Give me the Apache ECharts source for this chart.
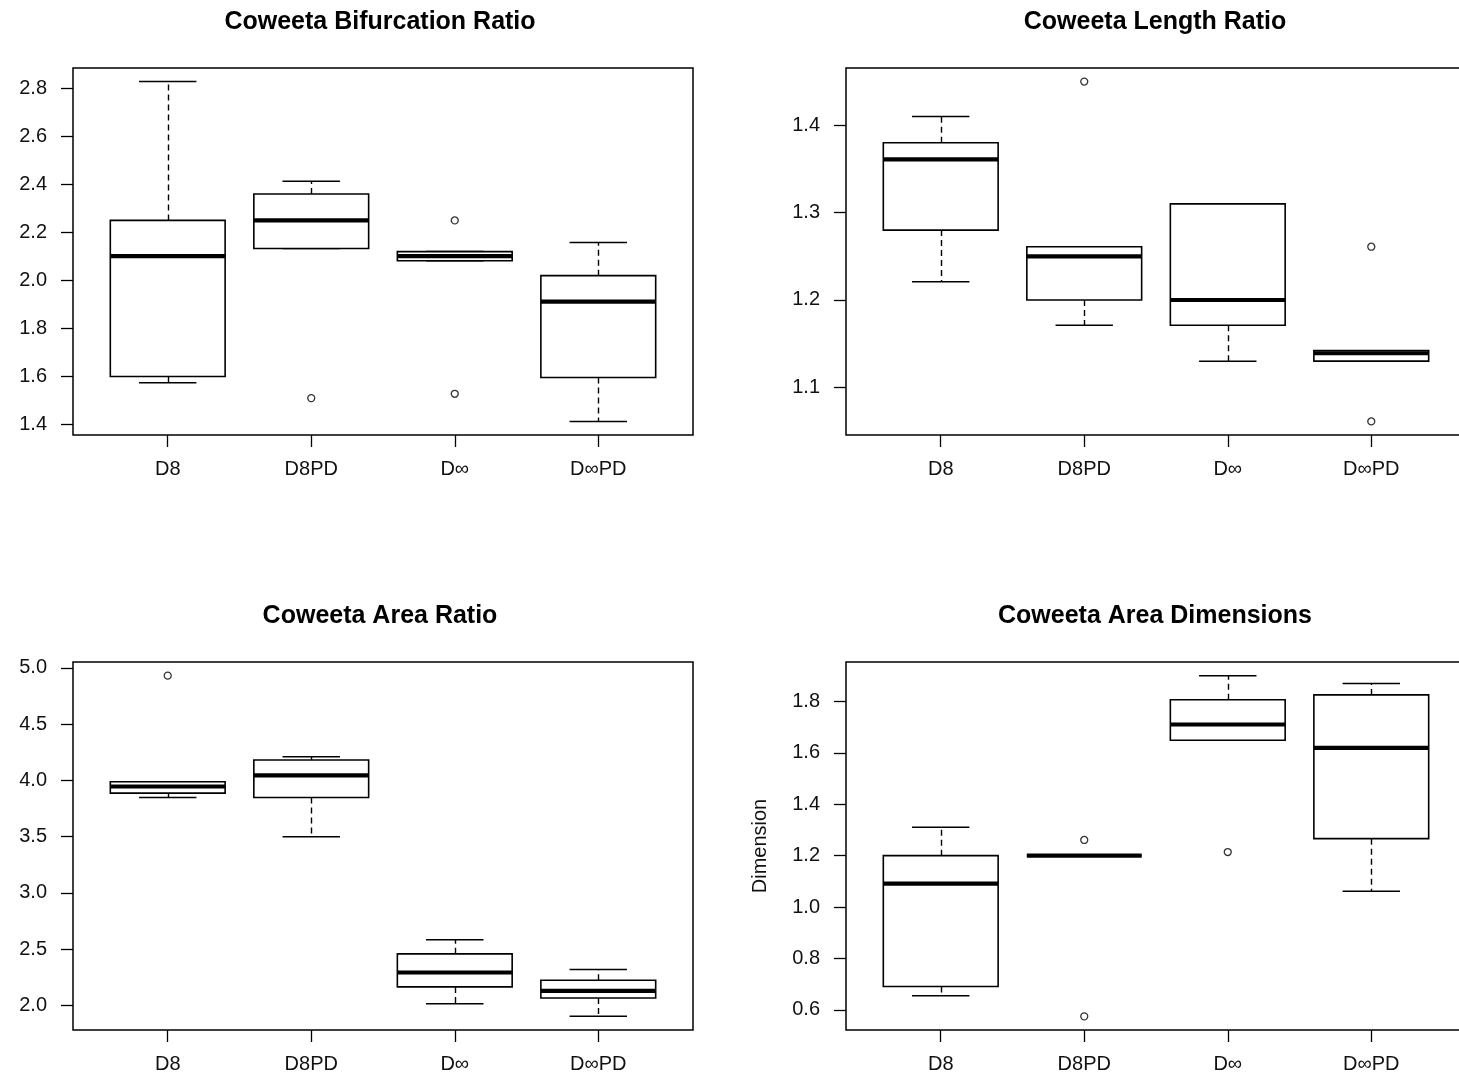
<!DOCTYPE html>
<html>
<head>
<meta charset="utf-8">
<script src="https://cdn.jsdelivr.net/npm/echarts@6/dist/echarts.min.js"></script>
<style>
html,body{margin:0;padding:0;background:#fff;}
#chart{width:1459px;height:1080px;}
</style>
</head>
<body>
<div id="chart"></div>
<script>
// ---- data ----
const categories = ['D8', 'D8PD', 'D\u221E', 'D\u221EPD'];

// [lowerWhisker, Q1, median, Q3, upperWhisker]
const bifurcationStats = [
  [1.574, 1.600, 2.101, 2.250, 2.828],
  [2.133, 2.133, 2.250, 2.360, 2.413],
  [2.082, 2.082, 2.101, 2.120, 2.120],
  [1.413, 1.596, 1.912, 2.020, 2.158]
];
const bifurcationOutliers = [[2, 1.510], [3, 2.250], [3, 1.528]];
const bifurcationTicks = [1.4, 1.6, 1.8, 2.0, 2.2, 2.4, 2.6, 2.8];

const lengthStats = [
  [1.221, 1.280, 1.361, 1.380, 1.410],
  [1.171, 1.200, 1.250, 1.261, 1.261],
  [1.130, 1.171, 1.200, 1.310, 1.310],
  [1.130, 1.130, 1.139, 1.142, 1.142]
];
const lengthOutliers = [[2, 1.450], [4, 1.261], [4, 1.061]];
const lengthTicks = [1.1, 1.2, 1.3, 1.4];

const areaStats = [
  [3.848, 3.887, 3.946, 3.988, 3.988],
  [3.500, 3.848, 4.045, 4.182, 4.211],
  [2.015, 2.164, 2.292, 2.458, 2.583],
  [1.902, 2.065, 2.128, 2.223, 2.318]
];
const areaOutliers = [[1, 4.932]];
const areaTicks = [2.0, 2.5, 3.0, 3.5, 4.0, 4.5, 5.0];

const dimensionStats = [
  [0.655, 0.691, 1.091, 1.200, 1.310],
  [1.200, 1.200, 1.200, 1.200, 1.200],
  [1.649, 1.649, 1.710, 1.806, 1.900],
  [1.062, 1.266, 1.619, 1.825, 1.869]
];
const dimensionOutliers = [[2, 1.261], [2, 0.575], [3, 1.214]];
const dimensionTicks = [0.6, 0.8, 1.0, 1.2, 1.4, 1.6, 1.8];

const titles = ['Coweeta Bifurcation Ratio', 'Coweeta Length Ratio', 'Coweeta Area Ratio', 'Coweeta Area Dimensions'];

// ---- layout ----
const FONT = '"Liberation Sans", Arial, sans-serif';
const panels = [
  {stats: bifurcationStats, out: bifurcationOutliers, ticks: bifurcationTicks, left: 73, top: 68, height: 367, ylabel: ''},
  {stats: lengthStats, out: lengthOutliers, ticks: lengthTicks, left: 846, top: 68, height: 367, ylabel: ''},
  {stats: areaStats, out: areaOutliers, ticks: areaTicks, left: 73, top: 662, height: 368, ylabel: ''},
  {stats: dimensionStats, out: dimensionOutliers, ticks: dimensionTicks, left: 846, top: 662, height: 368, ylabel: 'Dimension'}
];
const PW = 620;

function yRange(stats, out) {
  let mn = Infinity, mx = -Infinity;
  stats.forEach(s => s.forEach(v => { mn = Math.min(mn, v); mx = Math.max(mx, v); }));
  out.forEach(o => { mn = Math.min(mn, o[1]); mx = Math.max(mx, o[1]); });
  const e = (mx - mn) * 0.04;
  return [mn - e, mx + e];
}

function renderBox(params, api) {
  const x = api.value(0);
  const lo = api.value(1), q1 = api.value(2), med = api.value(3), q3 = api.value(4), hi = api.value(5);
  const c = api.coord([x, med]);
  const xl = api.coord([x - 0.4, med])[0];
  const xr = api.coord([x + 0.4, med])[0];
  const sl = api.coord([x - 0.2, med])[0];
  const sr = api.coord([x + 0.2, med])[0];
  const yLo = api.coord([x, lo])[1];
  const yQ1 = api.coord([x, q1])[1];
  const yMed = c[1];
  const yQ3 = api.coord([x, q3])[1];
  const yHi = api.coord([x, hi])[1];
  const cx = Math.round(c[0]) + 0.5;
  const black = '#000';
  return {
    type: 'group',
    children: [
      {type: 'line', shape: {x1: cx, y1: yQ3, x2: cx, y2: yHi}, style: {stroke: black, lineWidth: 1.4, lineDash: [6, 4]}},
      {type: 'line', shape: {x1: cx, y1: yQ1, x2: cx, y2: yLo}, style: {stroke: black, lineWidth: 1.4, lineDash: [6, 4]}},
      {type: 'line', shape: {x1: sl, y1: yHi, x2: sr, y2: yHi}, style: {stroke: black, lineWidth: 1.5}},
      {type: 'line', shape: {x1: sl, y1: yLo, x2: sr, y2: yLo}, style: {stroke: black, lineWidth: 1.5}},
      {type: 'rect', shape: {x: xl, y: yQ3, width: xr - xl, height: yQ1 - yQ3}, style: {fill: '#fff', stroke: black, lineWidth: 1.6}},
      {type: 'line', shape: {x1: xl, y1: yMed, x2: xr, y2: yMed}, style: {stroke: black, lineWidth: 4.2}}
    ]
  };
}

const grid = [], xAxis = [], yAxis = [], series = [], graphic = [];
panels.forEach((p, i) => {
  const r = yRange(p.stats, p.out);
  grid.push({
    left: p.left, top: p.top, width: PW, height: p.height,
    show: true, borderColor: '#000', borderWidth: 1.5, backgroundColor: 'transparent',
    containLabel: false, outerBoundsMode: 'none'
  });
  xAxis.push({
    gridIndex: i, type: 'value', min: 0.34, max: 4.66,
    axisLine: {show: false}, splitLine: {show: false},
    axisTick: {show: true, length: 12, customValues: [1, 2, 3, 4], lineStyle: {color: '#000', width: 1.3}},
    axisLabel: {
      customValues: [1, 2, 3, 4], margin: 24,
      formatter: v => categories[Math.round(v) - 1],
      color: '#111', fontSize: 20, fontFamily: FONT
    }
  });
  yAxis.push({
    gridIndex: i, type: 'value', min: r[0], max: r[1],
    name: p.ylabel, nameLocation: 'middle', nameGap: 76, nameRotate: 90,
    nameTextStyle: {color: '#111', fontSize: 20, fontFamily: FONT},
    axisLine: {show: false}, splitLine: {show: false},
    axisTick: {show: true, length: 12, customValues: p.ticks, lineStyle: {color: '#000', width: 1.3}},
    axisLabel: {
      customValues: p.ticks, margin: 26, padding: [4, 0, 0, 0],
      formatter: v => Number(v).toFixed(1),
      color: '#111', fontSize: 20, fontFamily: FONT
    }
  });
  series.push({
    type: 'custom', xAxisIndex: i, yAxisIndex: i,
    renderItem: renderBox,
    encode: {x: 0, y: [1, 2, 3, 4, 5]},
    data: p.stats.map((s, k) => [k + 1].concat(s)),
    z: 2
  });
  series.push({
    type: 'scatter', xAxisIndex: i, yAxisIndex: i,
    symbol: 'circle', symbolSize: 7,
    itemStyle: {color: '#fff', borderColor: '#000', borderWidth: 1.3},
    data: p.out, z: 3
  });
  graphic.push({
    type: 'text', x: p.left + PW / 2 + (i % 2 === 0 ? -3 : -1), y: p.top - 46,
    style: {text: titles[i], font: 'bold 25px ' + FONT, fill: '#000', textAlign: 'center', textVerticalAlign: 'middle'}
  });
});

const chart = echarts.init(document.getElementById('chart'), null, {renderer: 'canvas'});
chart.setOption({
  animation: false,
  backgroundColor: '#fff',
  grid, xAxis, yAxis, series, graphic
});
</script>
</body>
</html>
